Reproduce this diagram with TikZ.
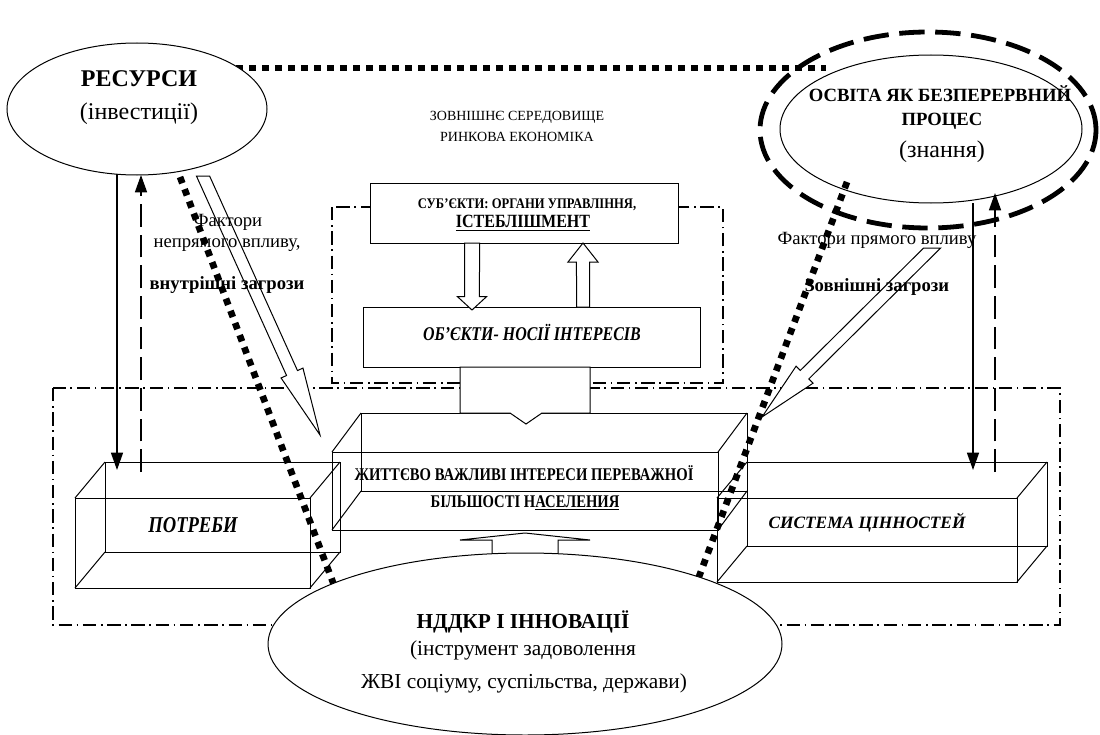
\documentclass[tikz,border=0pt]{standalone}
\usepackage{fontspec}
\setmainfont{Liberation Serif}
\newfontfamily\condA[FakeStretch=0.82]{Liberation Serif}
\newfontfamily\condB[FakeStretch=0.86]{Liberation Serif}
\usetikzlibrary{shapes.geometric,arrows.meta,calc}

\tikzset{
  ln/.style={line width=0.75pt},
  ddbox/.style={line width=1pt, dash pattern=on 10pt off 3.5pt on 1.2pt off 3.5pt},
  bigdot/.style={line width=5pt, dash pattern=on 5pt off 4.75pt},
  bigdash/.style={line width=3.6pt, dash pattern=on 19pt off 8pt},
  vdash/.style={line width=1.2pt, dash pattern=on 17pt off 6pt},
  vsolid/.style={line width=1.1pt},
  arrtip/.style={-{Triangle[width=9pt,length=13pt]}},
  hollow/.style={ln, fill=white, line join=miter},
  ell/.style={ellipse, draw, ln, inner sep=0pt},
  lbl/.style={inner sep=0pt, anchor=center, align=center},
}

\newcommand\cuboid[6]{%
  \draw[ln] (#1,#2) rectangle (#3,#4);
  \draw[ln] ($(#1,#2)+(#5,#6)$) rectangle ($(#3,#4)+(#5,#6)$);
  \foreach \px/\py in {#1/#2,#3/#2,#1/#4,#3/#4} \draw[ln] (\px,\py) -- ++(#5,#6);
}

% hollow block arrow: start, tip, shaft half width, head half width, head length; start cut horizontally
\newcommand\hollowarrow[5]{%
  \coordinate (ha-s) at #1; \coordinate (ha-t) at #2;
  \coordinate (ha-h) at ($(ha-t)!#5!(ha-s)$);
  \coordinate (ha-l1) at ($(ha-s)!#3!90:(ha-t)$);
  \coordinate (ha-l2) at ($(ha-h)!#3!-90:(ha-s)$);
  \coordinate (ha-r1) at ($(ha-s)!#3!-90:(ha-t)$);
  \coordinate (ha-r2) at ($(ha-h)!#3!90:(ha-s)$);
  \coordinate (ha-x) at ($(ha-s)+(10,0)$);
  \coordinate (ha-l0) at (intersection of ha-l1--ha-l2 and ha-s--ha-x);
  \coordinate (ha-r0) at (intersection of ha-r1--ha-r2 and ha-s--ha-x);
  \draw[hollow] (ha-l0) -- (ha-l2) -- ($(ha-h)!#4!-90:(ha-s)$)
    -- (ha-t) -- ($(ha-h)!#4!90:(ha-s)$) -- (ha-r2) -- (ha-r0) -- cycle;
}

\begin{document}
\begin{tikzpicture}[x=0.75pt,y=-0.75pt]
\useasboundingbox (0,0) rectangle (1100,735);

% dash-dot frames
\draw[ddbox] (332,207) rectangle (723,383);
\draw[ddbox] (53,388) rectangle (1060,625);

% cuboids
\cuboid{75}{498}{310}{588}{30}{-36}
\cuboid{332}{452}{718}{530}{29}{-39}
\cuboid{717}{498}{1017}{582}{30}{-36}

% hollow factor arrows
\hollowarrow{(203,176)}{(320,435)}{4.5pt}{9pt}{51pt}
\hollowarrow{(932,248)}{(762,417)}{4.5pt}{9pt}{45pt}

% thick dotted lines
\coordinate (dl1) at (180,177); \coordinate (dl2) at (340,601);
\coordinate (dr1) at (847,182); \coordinate (dr2) at (697,582);
\coordinate (dt1) at (236,68);  \coordinate (dt2) at (826,68);
\draw[bigdot] (dl1) -- (dl2);
\draw[bigdot] (dr1) -- (dr2);
\draw[bigdot] (dt1) -- (dt2);

% subject / object boxes
\node[draw, ln, fill=white, minimum width=231pt, minimum height=45pt, inner sep=0pt] (sub) at (524,213) {};
\node[draw, ln, fill=white, minimum width=252.75pt, minimum height=45pt, inner sep=0pt] (obj) at (531.5,337) {};
\hollowarrow{(472,243)}{(472,310)}{5.6pt}{10.9pt}{10pt}
\hollowarrow{(583,307)}{(583,243)}{4.9pt}{11.25pt}{14.25pt}

% big block arrow down
\draw[hollow] (460,367) -- (590,367) -- (590,413) -- (542,413) -- (526,424) -- (510,413) -- (460,413) -- cycle;
% up arrow from R&D
\draw[hollow] (492,560) -- (492,540) -- (460,540) -- (525,533) -- (590,540) -- (558,540) -- (558,560);

% ellipses
\node[ell, fill=white, minimum width=195pt, minimum height=99pt] (res) at (137,109) {};
\node[ell, minimum width=226.5pt, minimum height=111pt] (osv) at (931,129) {};
\node[ellipse, draw, bigdash, inner sep=0pt, minimum width=252pt, minimum height=147pt] (osvout) at (928,130) {};
\node[ell, fill=white, minimum width=385.5pt, minimum height=136.5pt] (nd) at (525,644) {};

% vertical arrows
\coordinate (la1) at (117,174); \coordinate (la2) at (117,470);
\coordinate (lb1) at (141,472); \coordinate (lb2) at (141,175);
\coordinate (ra1) at (973,203); \coordinate (ra2) at (973,470);
\coordinate (rb1) at (995,472); \coordinate (rb2) at (995,193);
\draw[vsolid, arrtip] (la1) -- (la2);
\draw[vdash, arrtip] (lb1) -- (lb2);
\draw[vsolid, arrtip] (ra1) -- (ra2);
\draw[vdash, arrtip] (rb1) -- (rb2);

% texts
\node[lbl, font=\fontsize{18}{20}\selectfont\bfseries] (t1) at (139,79) {РЕСУРСИ};
\node[lbl, font=\fontsize{18}{20}\selectfont] (t2) at (139,114) {(інвестиції)};
\node[lbl, font=\fontsize{14}{16}\selectfont\bfseries] (t3) at (940,94) {ОСВІТА ЯК БЕЗПЕРЕРВНИЙ};
\node[lbl, font=\fontsize{14}{16}\selectfont\bfseries] (t4) at (942,121) {ПРОЦЕС};
\node[lbl, font=\fontsize{18}{20}\selectfont] (t5) at (942,152) {(знання)};
\node[lbl, font=\fontsize{10.5}{12}\selectfont] (t6) at (517,117) {ЗОВНІШНЄ СЕРЕДОВИЩЕ};
\node[lbl, font=\fontsize{10.5}{12}\selectfont] (t7) at (517,137) {РИНКОВА ЕКОНОМІКА};
\node[lbl, font=\condB\fontsize{11}{13}\selectfont\bfseries] (t8) at (527,205) {СУБ’ЄКТИ: ОРГАНИ УПРАВЛІННЯ,};
\node[lbl, font=\condB\fontsize{14}{16}\selectfont\bfseries] (t9) at (523,223) {\underline{ІСТЕБЛІШМЕНТ}};
\node[lbl, font=\condA\fontsize{14.6}{16}\selectfont\bfseries\itshape] (t10) at (532,332) {ОБ’ЄКТИ- НОСІЇ ІНТЕРЕСІВ};
\node[lbl, font=\condA\fontsize{13.4}{15}\selectfont\bfseries] (t11) at (524,473) {ЖИТТЄВО ВАЖЛИВІ ІНТЕРЕСИ ПЕРЕВАЖНОЇ};
\node[lbl, font=\condA\fontsize{13.4}{15}\selectfont\bfseries] (t12) at (525,503) {БІЛЬШОСТІ Н\underline{АСЕЛЕНИЯ}};
\node[lbl, font=\condA\fontsize{17}{19}\selectfont\bfseries\itshape] (t13) at (193,525) {ПОТРЕБИ};
\node[lbl, font=\fontsize{13}{15}\selectfont\bfseries\itshape] (t14) at (867,523) {СИСТЕМА ЦІННОСТЕЙ};
\node[lbl, font=\fontsize{16}{18}\selectfont\bfseries] (t15) at (523,622) {НДДКР І ІННОВАЦІЇ};
\node[lbl, font=\fontsize{16}{18}\selectfont] (t16) at (523,650) {(інструмент задоволення};
\node[lbl, font=\fontsize{16}{18}\selectfont] (t17) at (524,683) {ЖВІ соціуму, суспільства, держави)};
\node[lbl, font=\fontsize{14}{16}\selectfont] (t18) at (228,222) {Фактори};
\node[lbl, font=\fontsize{14}{16}\selectfont] (t19) at (227,245) {непрямого впливу,};
\node[lbl, font=\fontsize{14}{16}\selectfont\bfseries] (t20) at (227,285) {внутрішні загрози};
\node[lbl, font=\fontsize{14}{16}\selectfont] (t21) at (877,240) {Фактори прямого впливу};
\node[lbl, font=\fontsize{14}{16}\selectfont\bfseries] (t22) at (877,287) {Зовнішні загрози};
\end{tikzpicture}
\end{document}
